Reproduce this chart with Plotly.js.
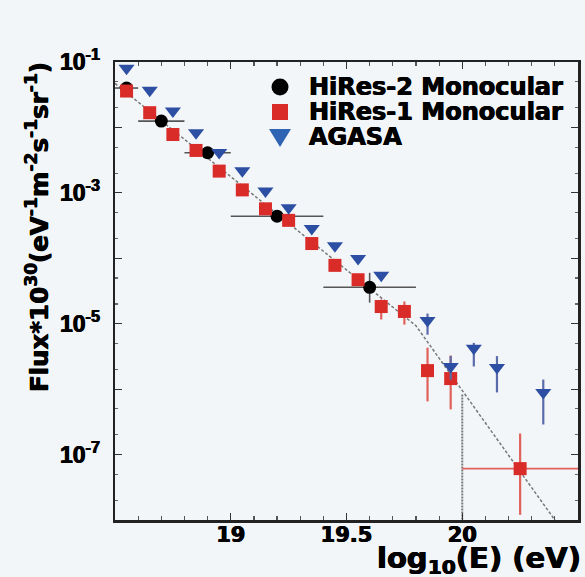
<!DOCTYPE html>
<html><head><meta charset="utf-8">
<script src="https://cdn.plot.ly/plotly-3.0.1.min.js"></script>
<style>html,body{margin:0;padding:0;background:#f3f6f9;}#chart{width:585px;height:577px;}</style>
</head><body><div id="chart"></div>
<script>
// HiRes-1 Monocular (red squares)
const hires1X  = [18.55,18.65,18.75,18.85,18.95,19.05,19.15,19.25,19.35,19.45,19.55,19.65,19.75,19.85,19.95,20.25];
const hires1Y  = [3.6e-2,1.68e-2,7.8e-3,4.45e-3,2.15e-3,1.11e-3,5.7e-4,3.8e-4,1.68e-4,7.8e-5,4.7e-5,1.83e-5,1.54e-5,1.92e-6,1.45e-6,6.1e-8];
const hires1Hi = [3.6e-2,1.68e-2,7.8e-3,4.45e-3,2.15e-3,1.11e-3,5.7e-4,3.8e-4,1.68e-4,7.8e-5,4.7e-5,2.34e-5,2.19e-5,4.3e-6,3.27e-6,2.1e-7];
const hires1Lo = [3.6e-2,1.68e-2,7.8e-3,4.45e-3,2.15e-3,1.11e-3,5.7e-4,3.8e-4,1.68e-4,7.8e-5,4.7e-5,1.16e-5,9.7e-6,6.5e-7,4.9e-7,1.2e-8];
const hires1XErr = [0,0,0,0,0,0,0,0,0,0,0,0,0,0,0,0.25];

// HiRes-2 Monocular (black circles)
const hires2X  = [18.55,18.7,18.9,19.2,19.6];
const hires2Y  = [4.0e-2,1.25e-2,4.1e-3,4.4e-4,3.6e-5];
const hires2Hi = [4.0e-2,1.25e-2,4.1e-3,4.4e-4,6.0e-5];
const hires2Lo = [4.0e-2,1.25e-2,4.1e-3,4.4e-4,2.1e-5];
const hires2XErr = [0.05,0.1,0.1,0.2,0.2];

// AGASA (blue triangles)
const agasaX  = [18.55,18.65,18.75,18.85,18.95,19.05,19.15,19.25,19.35,19.45,19.55,19.65,19.85,19.95,20.05,20.15,20.35];
const agasaY  = [8.0e-2,3.7e-2,1.79e-2,8.3e-3,4.15e-3,2.18e-3,1.07e-3,5.9e-4,2.86e-4,1.55e-4,9.9e-5,5.5e-5,1.12e-5,2.22e-6,4.2e-6,2.14e-6,8.9e-7];
const agasaHi = [8.0e-2,3.7e-2,1.79e-2,8.3e-3,4.15e-3,2.18e-3,1.07e-3,5.9e-4,2.86e-4,1.55e-4,9.9e-5,5.5e-5,1.43e-5,3.2e-6,5.1e-6,3.2e-6,1.40e-6];
const agasaLo = [8.0e-2,3.7e-2,1.79e-2,8.3e-3,4.15e-3,2.18e-3,1.07e-3,5.9e-4,2.86e-4,1.55e-4,9.9e-5,5.5e-5,6.8e-6,1.4e-6,2.22e-6,8.9e-7,2.88e-7];

// Broken power-law fit (dashed) and bin-edge marker
const fitX = [18.5,19.8,20.5];
const fitY = [4.7e-2,9.3e-6,3.2e-9];
const edgeX = [20,20];
const edgeY = [8.3e-7,1e-8];

// Legend entries
const legendNames  = ['HiRes-2 Monocular','HiRes-1 Monocular','AGASA'];
const legendColors = ['#000000','#d92b27','#2f64b5'];

// Axis ticks
const yTickVals = [1e-1,1e-2,1e-3,1e-4,1e-5,1e-6,1e-7,1e-8];
const yTickText = ['10<sup>-1</sup>','','10<sup>-3</sup>','','10<sup>-5</sup>','','10<sup>-7</sup>',''];
const xTickVals = [19,19.5,20];
const xTickText = ['19','19.5','20'];

const diff = (a,b)=>a.map((v,i)=>v-b[i]);
const F = 'DejaVu Sans, Arial, sans-serif';
const FL = 'Liberation Sans, Arial, sans-serif';
const HEAVY = '0.5px 0 0 #000, -0.5px 0 0 #000';

const traces = [
  {x: fitX, y: fitY, mode:'lines', line:{color:'#777', width:1.5, dash:'3px,2px'}, showlegend:false, hoverinfo:'skip'},
  {x: edgeX, y: edgeY, mode:'lines', line:{color:'#7a7a7a', width:2, dash:'2px,1px'}, showlegend:false, hoverinfo:'skip'},
  {x: hires2X, y: hires2Y, name:legendNames[0], mode:'markers', showlegend:false,
   marker:{symbol:'circle', size:13, color:legendColors[0]},
   error_x:{type:'data', array:hires2XErr, color:'#555', thickness:1.6, width:0},
   error_y:{type:'data', symmetric:false, array:diff(hires2Hi,hires2Y), arrayminus:diff(hires2Y,hires2Lo), color:'#555', thickness:1.6, width:0}},
  {x: hires1X, y: hires1Y, name:legendNames[1], mode:'markers', showlegend:false,
   marker:{symbol:'square', size:13, color:legendColors[1]},
   error_x:{type:'data', array:hires1XErr, color:'#e0605a', thickness:1.8, width:0},
   error_y:{type:'data', symmetric:false, array:diff(hires1Hi,hires1Y), arrayminus:diff(hires1Y,hires1Lo), color:'#e0605a', thickness:2.2, width:0}},
  {x: agasaX, y: agasaY, name:legendNames[2], mode:'markers', showlegend:false,
   marker:{symbol:'triangle-down', size:14, color:'#2c4fa3'},
   error_y:{type:'data', symmetric:false, array:diff(agasaHi,agasaY), arrayminus:diff(agasaY,agasaLo), color:'#5a6bab', thickness:2.2, width:0}}
];

// Legend drawn as shapes + annotations (paper coords)
const legMX = 0.3564, legTX = 0.4147;
const legY = [0.9454, 0.8908, 0.8362];
const shapes = [
  {type:'circle', xref:'paper', yref:'paper', xsizemode:'pixel', ysizemode:'pixel', xanchor:legMX, yanchor:legY[0],
   x0:-8.5, x1:8.5, y0:-8.5, y1:8.5, fillcolor:legendColors[0], line:{width:0}},
  {type:'rect', xref:'paper', yref:'paper', xsizemode:'pixel', ysizemode:'pixel', xanchor:legMX, yanchor:legY[1],
   x0:-8, x1:8, y0:-8, y1:8, fillcolor:legendColors[1], line:{width:0}},
  {type:'path', xref:'paper', yref:'paper', xsizemode:'pixel', ysizemode:'pixel', xanchor:legMX, yanchor:legY[2],
   path:'M-11,8 L11,8 L0,-10 Z', fillcolor:legendColors[2], line:{width:0}}
];
const legendAnn = legendNames.map((n,i)=>({text:n, xref:'paper', yref:'paper', x:legTX, y:legY[i],
   xanchor:'left', yanchor:'middle', showarrow:false,
   font:{family:F, size:24, weight:'bold', color:'#000', shadow:HEAVY}}));

const layout = {
  width:585, height:577,
  margin:{l:115, r:7, t:62, b:57},
  paper_bgcolor:'#f3f6f9', plot_bgcolor:'#f3f6f9',
  font:{family:F, color:'#000', weight:'bold'},
  showlegend:false,
  shapes: shapes,
  xaxis:{type:'linear', range:[18.5,20.5], tickvals:xTickVals, ticktext:xTickText,
         ticks:'inside', ticklen:7, tickwidth:1.2, tickcolor:'#333',
         minor:{ticks:'inside', dtick:0.1, tick0:18.5, ticklen:4, tickcolor:'#555', showgrid:false},
         showgrid:false, zeroline:false, showline:true, linecolor:'#222', linewidth:2.5, mirror:'ticks',
         ticklabelstandoff:-6,
         tickfont:{family:F, size:21, weight:'bold', color:'#000', shadow:HEAVY}},
  yaxis:{type:'log', range:[-8,-1], tickvals:yTickVals, ticktext:yTickText,
         ticks:'inside', ticklen:7, tickwidth:1.2, tickcolor:'#333',
         minor:{ticks:'inside', ticklen:3, tickcolor:'#666', showgrid:false},
         showgrid:false, zeroline:false, showline:true, linecolor:'#222', linewidth:2.5, mirror:'ticks',
         ticklabelstandoff:8,
         tickfont:{family:FL, size:23, weight:'bold', color:'#000', shadow:HEAVY}},
  annotations:[
    {text:'Flux*10<sup>30</sup>(eV<sup>-1</sup>m<sup>-2</sup>s<sup>-1</sup>sr<sup>-1</sup>)', textangle:-90,
     xref:'paper', yref:'paper', x:-0.168, y:0.64, xanchor:'center', yanchor:'middle', showarrow:false,
     font:{family:F, size:24.5, weight:'bold', color:'#000', shadow:HEAVY}},
    {text:'log<sub>10</sub>(E) (eV)', xref:'paper', yref:'paper', x:1.0108, y:-0.087, xanchor:'right', yanchor:'middle', showarrow:false,
     font:{family:F, size:29, weight:'bold', color:'#000', shadow:HEAVY}}
  ].concat(legendAnn)
};

Plotly.newPlot('chart', traces, layout, {displayModeBar:false, staticPlot:true});
</script>
</body></html>
